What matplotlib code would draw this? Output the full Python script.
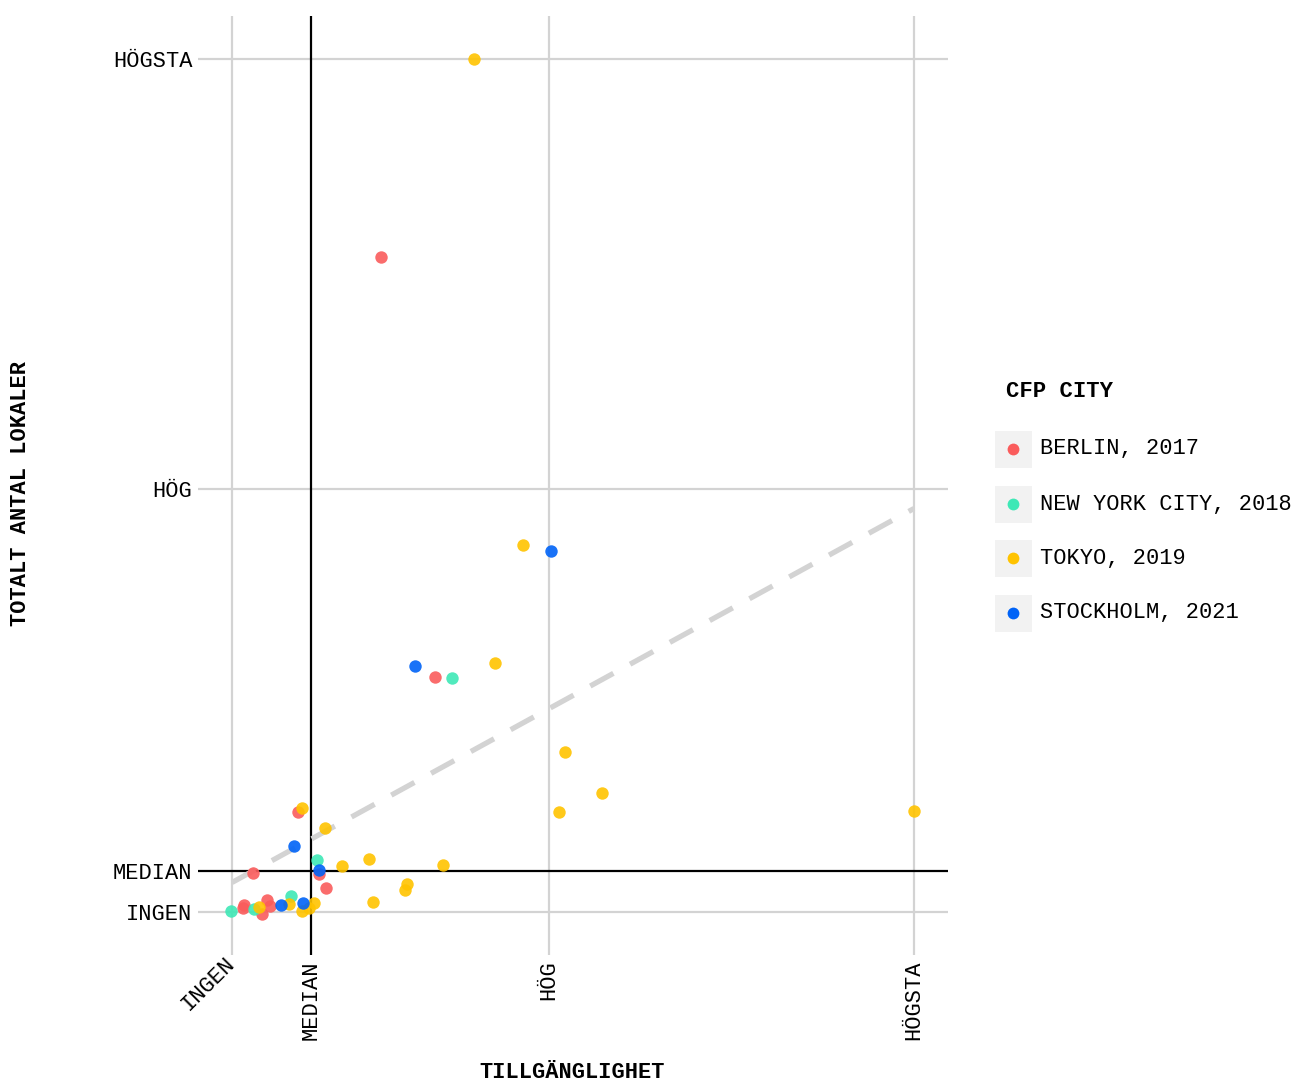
import matplotlib
matplotlib.use("Agg")
import matplotlib.pyplot as plt
from matplotlib.patches import Rectangle
from matplotlib.lines import Line2D

plt.rcParams['font.family'] = ['Liberation Mono', 'DejaVu Sans Mono']

# scale: 0 = INGEN, 100 = HÖGSTA
x_ticks = [0, 11.6, 46.5, 100]
x_labels = ["INGEN", "MEDIAN", "HÖG", "HÖGSTA"]
y_ticks = [0, 4.8, 49.6, 100]
y_labels = ["INGEN", "MEDIAN", "HÖG", "HÖGSTA"]
x_median = 11.6
y_median = 4.8

cities = ["BERLIN, 2017", "NEW YORK CITY, 2018", "TOKYO, 2019", "STOCKHOLM, 2021"]
colors = ["#fa5c5c", "#3ee8b6", "#ffc300", "#0063f7"]

berlin_x = [21.9, 29.7, 9.7, 3.0, 12.8, 13.7, 1.7, 1.6, 4.4, 5.1, 5.6]
berlin_y = [76.8, 27.6, 11.8, 4.6, 4.5, 2.9, 0.9, 0.5, -0.2, 1.5, 0.7]
nyc_x = [32.3, 12.4, -0.2, 3.2, 8.6]
nyc_y = [27.5, 6.1, 0.2, 0.4, 1.9]
tokyo_x = [35.5, 42.6, 38.6, 48.8, 54.3, 47.9, 100, 10.2, 13.6, 16.1, 20.1,
           30.9, 25.6, 25.3, 20.7, 3.9, 8.3, 10.3, 12.0, 11.3]
tokyo_y = [100, 43.0, 29.2, 18.8, 14.0, 11.7, 11.9, 12.2, 9.9, 5.4, 6.3,
           5.5, 3.3, 2.6, 1.2, 0.6, 1.0, 0.1, 1.1, 0.5]
sthlm_x = [46.8, 26.9, 9.1, 12.8, 7.2, 10.4]
sthlm_y = [42.3, 28.9, 7.8, 5.0, 0.8, 1.1]

trend_x = [0, 100]
trend_y = [3.5, 47.3]

fig = plt.figure(figsize=(12.91, 10.82), dpi=100)
ax = fig.add_axes([198/1291, 1 - 955/1082, 750/1291, 939/1082])
ax.set_xlim(-5, 105)
ax.set_ylim(-5, 105)

grid_c = "#d3d3d3"
for t in x_ticks:
    if t != x_median:
        ax.axvline(t, color=grid_c, lw=1.6, zorder=0)
for t in y_ticks:
    if t != y_median:
        ax.axhline(t, color=grid_c, lw=1.6, zorder=0)
ax.axvline(x_median, color="black", lw=1.6, zorder=1)
ax.axhline(y_median, color="black", lw=1.6, zorder=1)

ax.plot(trend_x, trend_y, color=grid_c, lw=3.8, dashes=(5, 3.6), zorder=1)

series = [(berlin_x, berlin_y), (nyc_x, nyc_y), (tokyo_x, tokyo_y), (sthlm_x, sthlm_y)]
for (xs, ys), c in zip(series, colors):
    ax.scatter(xs, ys, s=80, color=c, alpha=0.9, linewidths=0, zorder=3)

for s in ax.spines.values():
    s.set_visible(False)
ax.tick_params(length=0, pad=4, labelsize=15.8)
ax.set_xticks(x_ticks)
ax.set_xticklabels(x_labels)
ax.set_yticks(y_ticks)
ax.set_yticklabels(y_labels)
for i, lab in enumerate(ax.get_xticklabels()):
    if i == 0:
        lab.set_rotation(45)
        lab.set_ha("right")
        lab.set_va("center")
        lab.set_rotation_mode("anchor")
    else:
        lab.set_rotation(90)
        lab.set_ha("center")
        lab.set_va("top")

fig.text(572/1291, 1 - 1073/1082, "TILLGÄNGLIGHET", ha="center", va="center",
         fontsize=15.8, fontweight="bold")
fig.text(21/1291, 1 - 494/1082, "TOTALT ANTAL LOKALER", ha="center", va="center",
         rotation=90, fontsize=15.8, fontweight="bold")

# legend
fig.text(1006/1291, 1 - 392/1082, "CFP CITY", ha="left", va="center",
         fontsize=16, fontweight="bold")
ys_leg = [449, 504, 558, 613]
for name, c, yp in zip(cities, colors, ys_leg):
    fig.add_artist(Rectangle((995/1291, 1 - (yp + 18.5)/1082), 37/1291, 37/1082,
                             transform=fig.transFigure, color="#f2f2f2", lw=0))
    fig.add_artist(Line2D([1013/1291], [1 - yp/1082], marker="o", markersize=8.5,
                          color=c, markeredgewidth=0, linestyle="none",
                          transform=fig.transFigure))
    fig.text(1040/1291, 1 - yp/1082, name, ha="left", va="center", fontsize=15.8)

fig.savefig("out.png", dpi=100)
